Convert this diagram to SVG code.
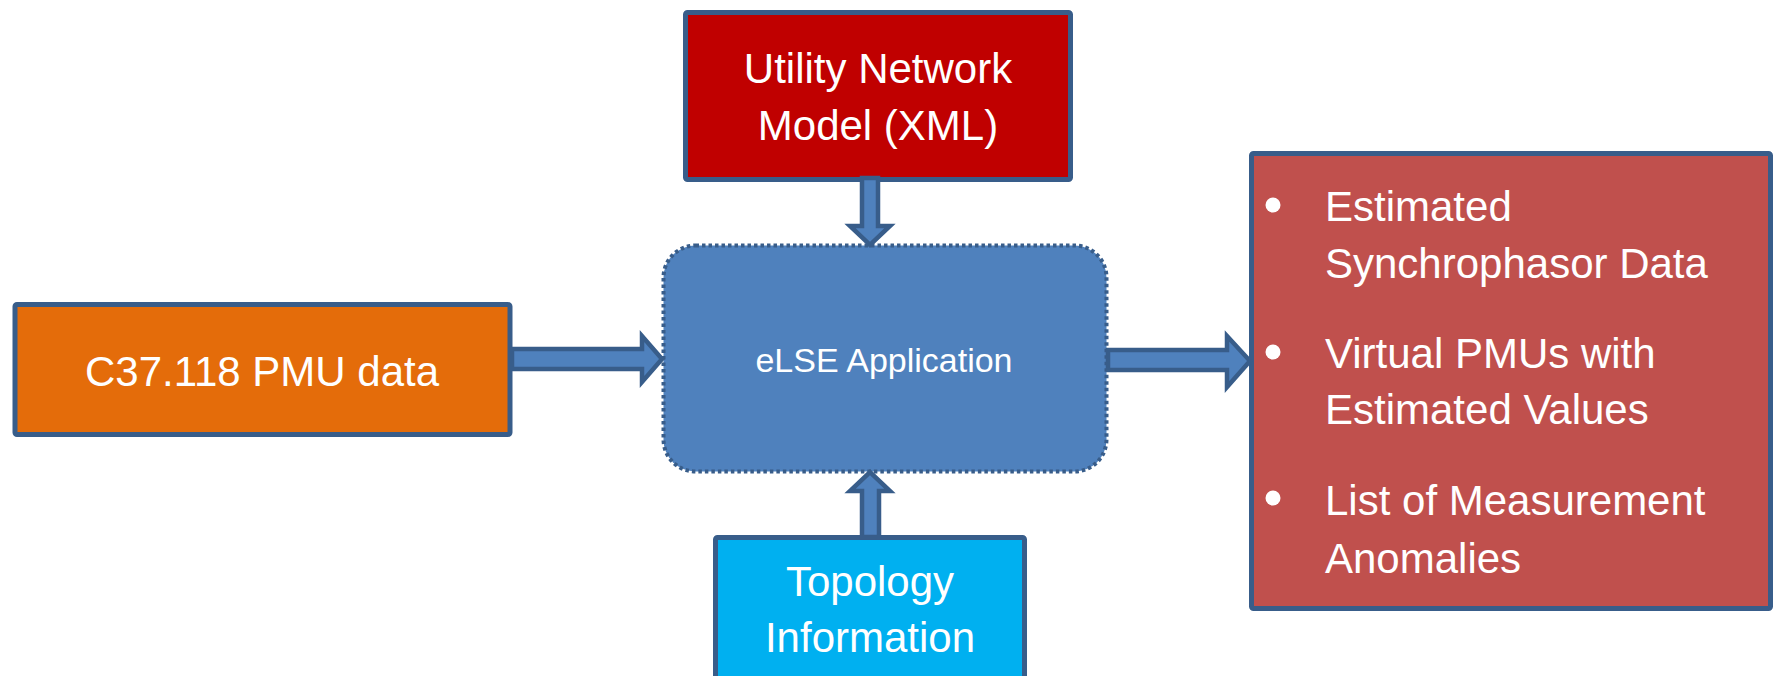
<svg xmlns="http://www.w3.org/2000/svg" width="1775" height="676" viewBox="0 0 1775 676">
<style>
.box{stroke:#385D8A;stroke-width:5}
.lbl{font-family:"Liberation Sans",Arial,sans-serif;fill:#FFFFFF;font-size:42px}
.mid{text-anchor:middle}
.arrow{fill:#4F81BD;stroke:#385D8A;stroke-width:4.5;stroke-linejoin:miter}
.bullet{fill:#FFFFFF}
</style>
<rect width="1775" height="676" fill="#FFFFFF"/>
<g id="utility-network-model">
<rect class="box" x="685.5" y="12.5" width="385" height="167" rx="2" fill="#C00000"/>
<text class="lbl mid" x="878" y="83">Utility Network</text>
<text class="lbl mid" x="878" y="140">Model (XML)</text>
</g>
<g id="pmu-data">
<rect class="box" x="15" y="304.5" width="495" height="130" rx="2" fill="#E46C0A"/>
<text class="lbl mid" x="262" y="386">C37.118 PMU data</text>
</g>
<g id="else-application">
<rect x="663.5" y="245.5" width="443" height="226" rx="32" fill="#4F81BD" stroke="#385D8A" stroke-width="4" stroke-dasharray="3.5 3"/>
<text class="lbl mid" x="884" y="372" style="font-size:34px">eLSE Application</text>
</g>
<g id="topology-information">
<rect class="box" x="715.5" y="537.5" width="309" height="160" rx="2" fill="#00B0F0"/>
<text class="lbl mid" x="870" y="596">Topology</text>
<text class="lbl mid" x="870" y="652">Information</text>
</g>
<g id="outputs">
<rect class="box" x="1251.5" y="153.5" width="519" height="455" rx="2" fill="#C0504D"/>
<circle class="bullet" cx="1273" cy="205" r="7.5"/>
<text class="lbl" x="1325" y="221">Estimated</text>
<text class="lbl" x="1325" y="278">Synchrophasor Data</text>
<circle class="bullet" cx="1273" cy="352" r="7.5"/>
<text class="lbl" x="1325" y="368">Virtual PMUs with</text>
<text class="lbl" x="1325" y="424">Estimated Values</text>
<circle class="bullet" cx="1273" cy="498" r="7.5"/>
<text class="lbl" x="1325" y="515">List of Measurement</text>
<text class="lbl" x="1325" y="573">Anomalies</text>
</g>
<g id="connectors">
<polygon class="arrow" points="862,178 878,178 878,226 890,226 870,245 850,226 862,226"/>
<polygon class="arrow" points="512,349 642,349 642,336 662,359 642,382 642,369 512,369"/>
<polygon class="arrow" points="862,537 879,537 879,491 890,491 870,472 850,491 862,491"/>
<polygon class="arrow" points="1108,350 1227,350 1227,336 1250,361 1227,387 1227,370 1108,370"/>
</g>
</svg>
